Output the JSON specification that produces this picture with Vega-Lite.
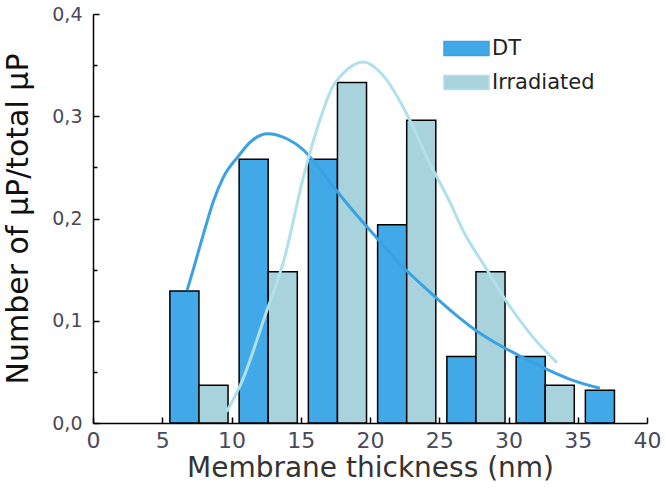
{
  "$schema": "https://vega.github.io/schema/vega-lite/v6.json",
  "width": 554,
  "height": 409,
  "autosize": "none",
  "padding": {"left": 93, "top": 14, "right": 19, "bottom": 76},
  "background": "white",
  "config": {"view": {"stroke": null}, "font": "DejaVu Sans"},
  "datasets": {
    "bars": [
      {"series": "DT", "start": 5.55, "end": 7.65, "value": 0.129},
      {"series": "DT", "start": 10.55, "end": 12.65, "value": 0.258},
      {"series": "DT", "start": 15.55, "end": 17.65, "value": 0.258},
      {"series": "DT", "start": 20.55, "end": 22.65, "value": 0.194},
      {"series": "DT", "start": 25.55, "end": 27.65, "value": 0.065},
      {"series": "DT", "start": 30.55, "end": 32.65, "value": 0.065},
      {"series": "DT", "start": 35.55, "end": 37.65, "value": 0.032},
      {"series": "Irradiated", "start": 7.65, "end": 9.75, "value": 0.037},
      {"series": "Irradiated", "start": 12.65, "end": 14.75, "value": 0.148},
      {"series": "Irradiated", "start": 17.65, "end": 19.75, "value": 0.333},
      {"series": "Irradiated", "start": 22.65, "end": 24.75, "value": 0.296},
      {"series": "Irradiated", "start": 27.65, "end": 29.75, "value": 0.148},
      {"series": "Irradiated", "start": 32.65, "end": 34.75, "value": 0.037}
    ],
    "curves": [
      {"series": "DT", "x": 6.8, "y": 0.13},
      {"series": "DT", "x": 7.3, "y": 0.153},
      {"series": "DT", "x": 8.0, "y": 0.186},
      {"series": "DT", "x": 8.7, "y": 0.217},
      {"series": "DT", "x": 9.4, "y": 0.24},
      {"series": "DT", "x": 10.5, "y": 0.261},
      {"series": "DT", "x": 11.3, "y": 0.274},
      {"series": "DT", "x": 12.6, "y": 0.283},
      {"series": "DT", "x": 14.0, "y": 0.278},
      {"series": "DT", "x": 15.2, "y": 0.267},
      {"series": "DT", "x": 16.0, "y": 0.255},
      {"series": "DT", "x": 17.3, "y": 0.232},
      {"series": "DT", "x": 18.5, "y": 0.212},
      {"series": "DT", "x": 20.1, "y": 0.187},
      {"series": "DT", "x": 22.2, "y": 0.155},
      {"series": "DT", "x": 24.4, "y": 0.127},
      {"series": "DT", "x": 26.0, "y": 0.108},
      {"series": "DT", "x": 27.6, "y": 0.091},
      {"series": "DT", "x": 29.5, "y": 0.075},
      {"series": "DT", "x": 31.2, "y": 0.063},
      {"series": "DT", "x": 32.7, "y": 0.053},
      {"series": "DT", "x": 34.6, "y": 0.042},
      {"series": "DT", "x": 36.6, "y": 0.034},
      {"series": "Irradiated", "x": 9.65, "y": 0.011},
      {"series": "Irradiated", "x": 10.8, "y": 0.042},
      {"series": "Irradiated", "x": 12.4, "y": 0.104},
      {"series": "Irradiated", "x": 13.8, "y": 0.16},
      {"series": "Irradiated", "x": 15.2, "y": 0.241},
      {"series": "Irradiated", "x": 16.4, "y": 0.297},
      {"series": "Irradiated", "x": 17.2, "y": 0.326},
      {"series": "Irradiated", "x": 18.3, "y": 0.345},
      {"series": "Irradiated", "x": 19.5, "y": 0.353},
      {"series": "Irradiated", "x": 21.0, "y": 0.339},
      {"series": "Irradiated", "x": 22.7, "y": 0.301},
      {"series": "Irradiated", "x": 24.2, "y": 0.257},
      {"series": "Irradiated", "x": 25.7, "y": 0.218},
      {"series": "Irradiated", "x": 26.8, "y": 0.186},
      {"series": "Irradiated", "x": 28.3, "y": 0.153},
      {"series": "Irradiated", "x": 29.8, "y": 0.12},
      {"series": "Irradiated", "x": 31.7, "y": 0.085},
      {"series": "Irradiated", "x": 33.5, "y": 0.059}
    ]
  },
  "layer": [
    {
      "data": {"name": "bars"},
      "mark": {"type": "bar", "stroke": "black", "strokeWidth": 1.5, "opacity": 1},
      "encoding": {
        "x": {
          "field": "start", "type": "quantitative",
          "scale": {"domain": [0, 40], "nice": false, "zero": false},
          "axis": {
            "values": [0, 2.5, 5, 7.5, 10, 12.5, 15, 17.5, 20, 22.5, 25, 27.5, 30, 32.5, 35, 37.5, 40],
            "labelExpr": "datum.value % 5 === 0 ? format(datum.value, 'd') : ''",
            "labelFlush": false,
            "grid": false,
            "domainColor": "black", "domainWidth": 1.5,
            "tickColor": "black", "tickWidth": 1.5,
            "tickSize": {"condition": {"test": "datum.value % 5 === 0", "value": -6}, "value": -4},
            "labelFontSize": 22, "labelColor": "#4a4a58", "labelPadding": 13,
            "labelOverlap": false,
            "title": "Membrane thickness (nm)",
            "titleFontSize": 28, "titleFontWeight": "normal", "titleColor": "#333333",
            "titlePadding": 3
          }
        },
        "x2": {"field": "end"},
        "y": {
          "field": "value", "type": "quantitative",
          "scale": {"domain": [0, 0.4], "nice": false},
          "axis": {
            "values": [0, 0.05, 0.1, 0.15, 0.2, 0.25, 0.3, 0.35, 0.4],
            "labelExpr": "abs(datum.value * 10 - round(datum.value * 10)) < 0.001 ? replace(format(datum.value, '.1f'), '.', ',') : ''",
            "labelFlush": false,
            "grid": false,
            "domainColor": "black", "domainWidth": 1.5,
            "tickColor": "black", "tickWidth": 1.5,
            "tickSize": {"condition": {"test": "abs(datum.value * 10 - round(datum.value * 10)) < 0.001", "value": -6}, "value": -4},
            "labelFontSize": 19, "labelColor": "#4a4a58", "labelPadding": 17,
            "labelOverlap": false,
            "title": "Number of μP/total μP",
            "titleFontSize": 30, "titleFontWeight": "normal", "titleColor": "#111111",
            "titlePadding": 18
          }
        },
        "y2": {"datum": 0},
        "color": {
          "field": "series", "type": "nominal",
          "scale": {"domain": ["DT", "Irradiated"], "range": ["#41a9e7", "#a8d3dd"]},
          "legend": {
            "orient": "none", "legendX": 350, "legendY": 11,
            "title": null,
            "symbolType": "M-1,-0.311H1V0.311H-1Z",
            "symbolSize": 2025,
            "symbolStrokeColor": "black", "symbolStrokeWidth": 1.5,
            "symbolOpacity": 1,
            "labelFontSize": 21, "labelColor": "#222222", "labelOffset": 2,
            "rowPadding": -16
          }
        }
      }
    },
    {
      "data": {"name": "curves"},
      "mark": {"type": "line", "interpolate": "monotone", "strokeWidth": 3},
      "encoding": {
        "x": {"field": "x", "type": "quantitative"},
        "y": {"field": "y", "type": "quantitative"},
        "detail": {"field": "series"},
        "stroke": {
          "field": "series", "type": "nominal",
          "scale": {"domain": ["DT", "Irradiated"], "range": ["#3aa2e4", "#b0e0ea"]},
          "legend": null
        }
      }
    }
  ]
}
